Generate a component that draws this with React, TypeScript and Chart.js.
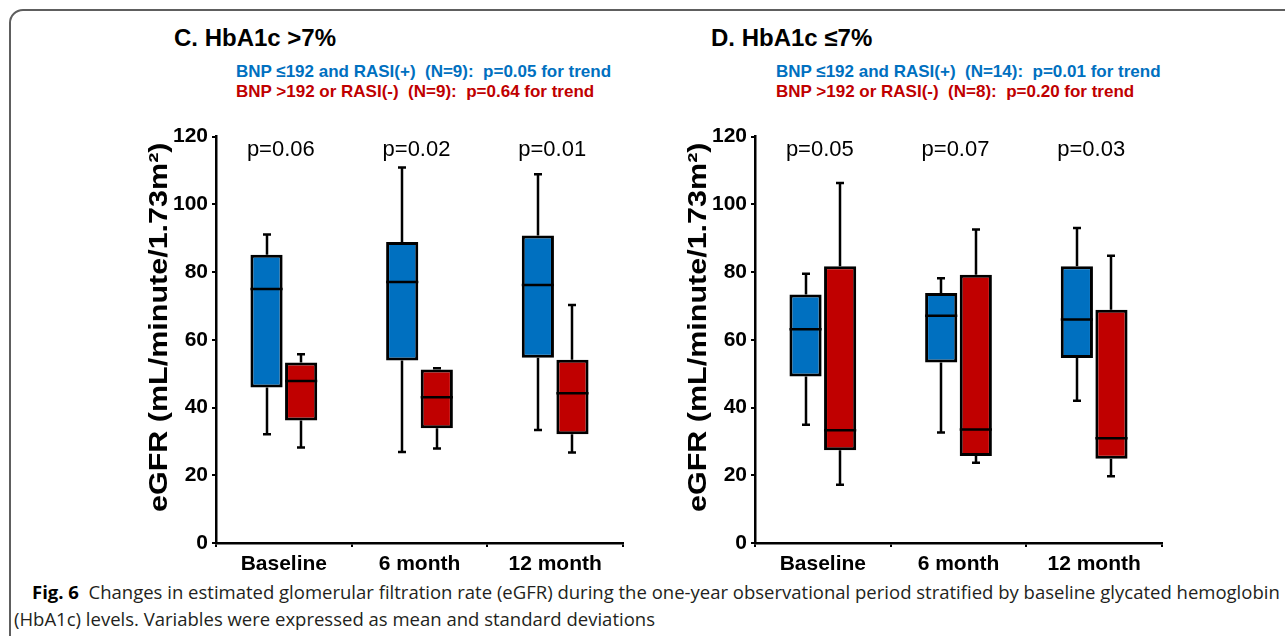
import React, { useEffect, useRef } from "react";
import { Chart, registerables } from "chart.js";

Chart.register(...registerables);

// ---------- data ----------
const categories = ["Baseline", "6 month", "12 month"];
const yTickValues = [0, 20, 40, 60, 80, 100, 120];

// Panel C: HbA1c >7%
const cBlueMin = [32.1, 26.9, 33.4];
const cBlueQ1 = [45.9, 53.9, 54.7];
const cBlueMedian = [75.0, 77.1, 76.2];
const cBlueQ3 = [85.1, 88.9, 90.8];
const cBlueMax = [91.1, 110.9, 108.9];
const cRedMin = [28.2, 27.9, 26.7];
const cRedQ1 = [36.2, 33.9, 32.1];
const cRedMedian = [47.8, 43.0, 44.2];
const cRedQ3 = [53.3, 51.2, 54.1];
const cRedMax = [55.7, 51.6, 70.3];
const cPValues = ["p=0.06", "p=0.02", "p=0.01"];

// Panel D: HbA1c ≤7%
const dBlueMin = [34.9, 32.6, 42.0];
const dBlueQ1 = [49.2, 53.3, 54.6];
const dBlueMedian = [63.1, 67.1, 66.0];
const dBlueQ3 = [73.4, 73.8, 81.7];
const dBlueMax = [79.5, 78.2, 93.0];
const dRedMin = [17.2, 23.7, 19.7];
const dRedQ1 = [27.4, 25.7, 24.9];
const dRedMedian = [33.3, 33.5, 30.9];
const dRedQ3 = [81.7, 79.2, 68.9];
const dRedMax = [106.3, 92.6, 84.8];
const dPValues = ["p=0.05", "p=0.07", "p=0.03"];

const BLUE = "#0070C0";
const RED = "#C00000";
const FONT = "'Liberation Sans', Arial, Helvetica, sans-serif";

type Stats = { min: number[]; q1: number[]; median: number[]; q3: number[]; max: number[] };

function makeBoxPlugin(stats: Stats[], pLabels: string[]) {
  return {
    id: "boxExtras",
    beforeDatasetsDraw(chart: any) {
      const ctx = chart.ctx;
      const ys = chart.scales.y;
      ctx.save();
      ctx.strokeStyle = "#000";
      ctx.lineWidth = 2.5;
      stats.forEach((s, di) => {
        const meta = chart.getDatasetMeta(di);
        meta.data.forEach((el: any, i: number) => {
          const x = Math.round(el.x);
          const yMax = ys.getPixelForValue(s.max[i]);
          const yQ3 = ys.getPixelForValue(s.q3[i]);
          const yQ1 = ys.getPixelForValue(s.q1[i]);
          const yMin = ys.getPixelForValue(s.min[i]);
          ctx.beginPath();
          ctx.moveTo(x, yQ3);
          ctx.lineTo(x, yMax);
          ctx.moveTo(x - 4, yMax);
          ctx.lineTo(x + 4, yMax);
          ctx.moveTo(x, yQ1);
          ctx.lineTo(x, yMin);
          ctx.moveTo(x - 4, yMin);
          ctx.lineTo(x + 4, yMin);
          ctx.stroke();
        });
      });
      ctx.restore();
    },
    afterDatasetsDraw(chart: any) {
      const ctx = chart.ctx;
      const ys = chart.scales.y;
      ctx.save();
      ctx.strokeStyle = "#000";
      ctx.lineWidth = 2.5;
      stats.forEach((s, di) => {
        const meta = chart.getDatasetMeta(di);
        meta.data.forEach((el: any, i: number) => {
          const y = ys.getPixelForValue(s.median[i]);
          ctx.beginPath();
          ctx.moveTo(el.x - el.width / 2, y);
          ctx.lineTo(el.x + el.width / 2, y);
          ctx.stroke();
        });
      });
      ctx.restore();
    },
    afterDraw(chart: any) {
      const ctx = chart.ctx;
      const xs = chart.scales.x;
      ctx.save();
      ctx.fillStyle = "#000";
      ctx.font = `22px ${FONT}`;
      ctx.textAlign = "center";
      ctx.textBaseline = "middle";
      pLabels.forEach((t, i) => {
        ctx.fillText(t, xs.getPixelForValue(i) - 3, chart.chartArea.top + 13);
      });
      ctx.restore();
    },
  };
}

function YTitle(props: { left: number }) {
  return (
    <div
      style={{
        position: "absolute",
        left: props.left,
        top: 512,
        transformOrigin: "0 0",
        transform: "rotate(-90deg) translateY(-50%) scaleX(1.22)",
        fontFamily: FONT,
        fontWeight: "bold",
        fontSize: 25,
        lineHeight: "28px",
        color: "#000",
        whiteSpace: "pre",
      }}
    >
      eGFR (mL/minute/1.73m²)
    </div>
  );
}

function BoxChart(props: { blue: Stats; red: Stats; pLabels: string[]; left: number; top: number }) {
  const ref = useRef<HTMLCanvasElement | null>(null);
  useEffect(() => {
    const canvas = ref.current;
    if (!canvas) return;
    const { blue, red, pLabels } = props;
    const tickFont = { family: FONT, size: 21, weight: "bold" as const };
    const chart = new Chart(canvas, {
      type: "bar",
      data: {
        labels: categories,
        datasets: [
          {
            label: "BNP ≤192 and RASI(+)",
            data: categories.map((_, i) => [blue.q1[i], blue.q3[i]]) as any,
            backgroundColor: BLUE,
            borderColor: "#000",
            borderWidth: 3,
            borderSkipped: false,
            barPercentage: 0.93,
            categoryPercentage: 0.51,
          },
          {
            label: "BNP >192 or RASI(-)",
            data: categories.map((_, i) => [red.q1[i], red.q3[i]]) as any,
            backgroundColor: RED,
            borderColor: "#000",
            borderWidth: 3,
            borderSkipped: false,
            barPercentage: 0.93,
            categoryPercentage: 0.51,
          },
        ],
      },
      options: {
        responsive: false,
        animation: false,
        layout: { padding: { left: 0, right: 17, top: 16, bottom: 0 } },
        plugins: { legend: { display: false }, tooltip: { enabled: false } },
        scales: {
          x: {
            grid: { display: true, drawOnChartArea: false, drawTicks: true, tickLength: 4, color: "#000", lineWidth: 2, offset: true },
            border: { display: true, color: "#000", width: 2.5 },
            ticks: { color: "#000", font: tickFont, padding: 5, maxRotation: 0 },
            afterFit: (s: any) => {
              s.height = 37;
            },
          },
          y: {
            min: 0,
            max: 120,
            afterBuildTicks: (s: any) => {
              s.ticks = yTickValues.map((v) => ({ value: v }));
            },
            ticks: { color: "#000", font: tickFont, padding: 4 },
            grid: { display: true, drawOnChartArea: false, drawTicks: true, tickLength: 4, color: "#000", lineWidth: 2 },
            border: { display: true, color: "#000", width: 2.5 },
            title: { display: false },
            afterFit: (s: any) => {
              s.width = 76;
            },
          },
        },
      },
      plugins: [makeBoxPlugin([blue, red], pLabels)],
    });
    return () => chart.destroy();
  }, []);
  return (
    <canvas
      ref={ref}
      width={500}
      height={460}
      style={{ position: "absolute", left: props.left, top: props.top, width: 500, height: 460 }}
    />
  );
}

function Caption() {
  const l1 = useRef<HTMLDivElement | null>(null);
  const l2 = useRef<HTMLDivElement | null>(null);
  useEffect(() => {
    const a = l1.current;
    const b = l2.current;
    if (!a || !b) return;
    const w = a.scrollWidth;
    const k = 1248 / w;
    a.style.transform = `scaleX(${k})`;
    b.style.transform = `scaleX(${k})`;
  }, []);
  const common: React.CSSProperties = {
    position: "absolute",
    whiteSpace: "pre",
    fontFamily: "'Open Sans', 'Noto Sans', sans-serif",
    fontSize: 18,
    lineHeight: "22px",
    color: "#231f20",
    transformOrigin: "0 0",
  };
  return (
    <>
      <div ref={l1} style={{ ...common, left: 32, top: 581 }}>
        <b style={{ color: "#000" }}>Fig. 6</b>
        {"  Changes in estimated glomerular filtration rate (eGFR) during the one-year observational period stratified by baseline glycated hemoglobin"}
      </div>
      <div ref={l2} style={{ ...common, left: 14, top: 608 }}>
        {"(HbA1c) levels. Variables were expressed as mean and standard deviations"}
      </div>
    </>
  );
}

export default function App() {
  const cBlue: Stats = { min: cBlueMin, q1: cBlueQ1, median: cBlueMedian, q3: cBlueQ3, max: cBlueMax };
  const cRed: Stats = { min: cRedMin, q1: cRedQ1, median: cRedMedian, q3: cRedQ3, max: cRedMax };
  const dBlue: Stats = { min: dBlueMin, q1: dBlueQ1, median: dBlueMedian, q3: dBlueQ3, max: dBlueMax };
  const dRed: Stats = { min: dRedMin, q1: dRedQ1, median: dRedMedian, q3: dRedQ3, max: dRedMax };

  const title: React.CSSProperties = {
    position: "absolute",
    fontFamily: FONT,
    fontWeight: "bold",
    fontSize: 24,
    lineHeight: "24px",
    color: "#000",
    whiteSpace: "pre",
  };
  const sub: React.CSSProperties = {
    position: "absolute",
    fontFamily: FONT,
    fontWeight: "bold",
    fontSize: 17,
    lineHeight: "20px",
    whiteSpace: "pre",
  };
  return (
    <div
      style={{
        position: "absolute",
        left: 0,
        top: 0,
        width: 1285,
        height: 636,
        overflow: "hidden",
        background: "#fff",
      }}
    >
      <div
        style={{
          position: "absolute",
          left: 9,
          top: 9,
          width: 1320,
          height: 640,
          border: "2px solid #5e5e5e",
          borderRadius: 14,
          boxSizing: "border-box",
        }}
      />
      <div style={{ ...title, left: 174, top: 26 }}>C. HbA1c &gt;7%</div>
      <div style={{ ...sub, left: 236, top: 62, color: BLUE }}>{"BNP ≤192 and RASI(+)  (N=9):  p=0.05 for trend"}</div>
      <div style={{ ...sub, left: 236, top: 82, color: RED }}>{"BNP >192 or RASI(-)  (N=9):  p=0.64 for trend"}</div>

      <div style={{ ...title, left: 711, top: 26 }}>D. HbA1c ≤7%</div>
      <div style={{ ...sub, left: 776, top: 62, color: BLUE }}>{"BNP ≤192 and RASI(+)  (N=14):  p=0.01 for trend"}</div>
      <div style={{ ...sub, left: 776, top: 82, color: RED }}>{"BNP >192 or RASI(-)  (N=8):  p=0.20 for trend"}</div>

      <BoxChart blue={cBlue} red={cRed} pLabels={cPValues} left={140} top={120} />
      <BoxChart blue={dBlue} red={dRed} pLabels={dPValues} left={679} top={120} />
      <YTitle left={158} />
      <YTitle left={697} />
      <Caption />
    </div>
  );
}
